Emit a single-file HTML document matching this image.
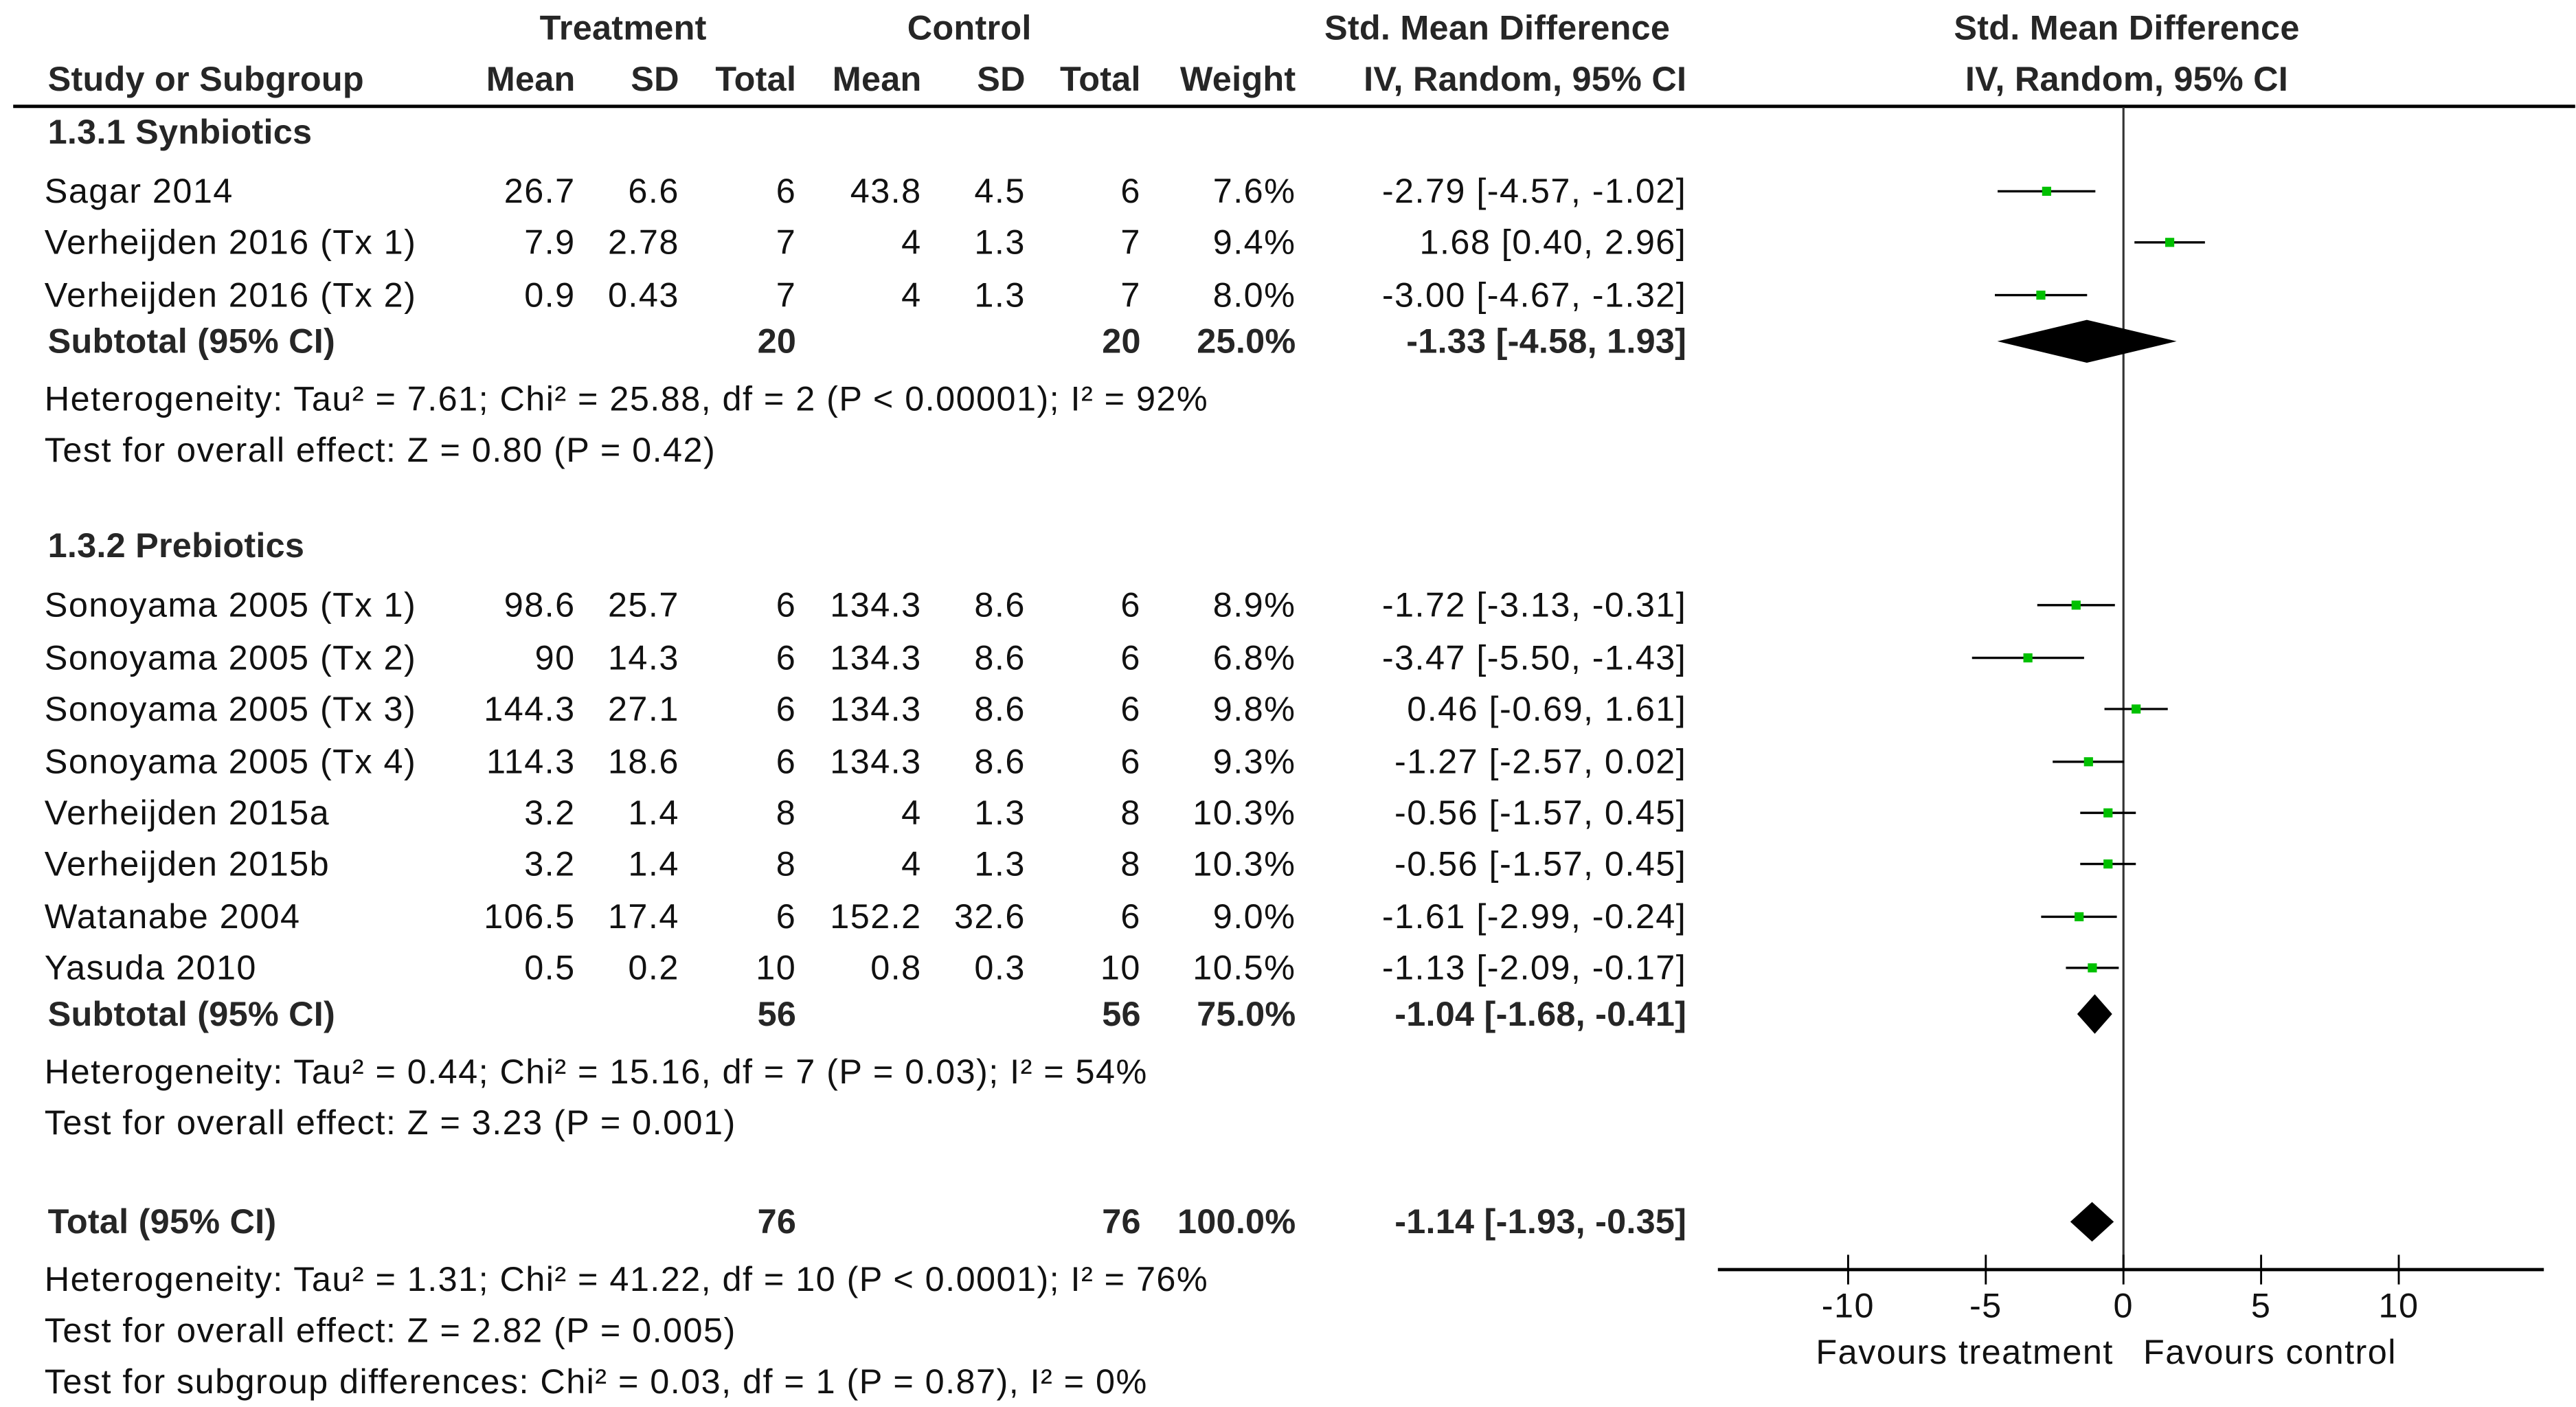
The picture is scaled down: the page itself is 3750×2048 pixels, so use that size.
<!DOCTYPE html>
<html><head><meta charset="utf-8"><style>
html,body{margin:0;padding:0;background:#fff;}
svg{display:block;}
text{font-family:"Liberation Sans",sans-serif;font-size:21px;fill:#111;letter-spacing:0.6px;}
.b{font-weight:bold;fill:#262626;letter-spacing:0.1px;}
</style></head><body>
<svg id="plot" width="3750" height="2048" viewBox="0 0 1562.5 853.33" preserveAspectRatio="none" xmlns="http://www.w3.org/2000/svg">
<g id="hdr">
<text class="b" x="378" y="24" text-anchor="middle">Treatment</text>
<text class="b" x="588" y="24" text-anchor="middle">Control</text>
<text class="b" x="1013" y="24" text-anchor="end">Std. Mean Difference</text>
<text class="b" x="1290" y="24" text-anchor="middle">Std. Mean Difference</text>
<text class="b" x="29" y="55">Study or Subgroup</text>
<text class="b" x="349" y="55" text-anchor="end">Mean</text>
<text class="b" x="412" y="55" text-anchor="end">SD</text>
<text class="b" x="483" y="55" text-anchor="end">Total</text>
<text class="b" x="559" y="55" text-anchor="end">Mean</text>
<text class="b" x="622" y="55" text-anchor="end">SD</text>
<text class="b" x="692" y="55" text-anchor="end">Total</text>
<text class="b" x="786" y="55" text-anchor="end">Weight</text>
<text class="b" x="1023" y="55" text-anchor="end">IV, Random, 95% CI</text>
<text class="b" x="1290" y="55" text-anchor="middle">IV, Random, 95% CI</text>
</g>
<line x1="8" y1="64.5" x2="1562" y2="64.5" stroke="#000" stroke-width="2"/>
<g id="body"></g>
</svg>
<script>
const studies=["Sagar 2014","Verheijden 2016 (Tx 1)","Verheijden 2016 (Tx 2)","Sonoyama 2005 (Tx 1)","Sonoyama 2005 (Tx 2)","Sonoyama 2005 (Tx 3)","Sonoyama 2005 (Tx 4)","Verheijden 2015a","Verheijden 2015b","Watanabe 2004","Yasuda 2010"];
const rowY=[116,147,179,367,399,430,462,493,524,556,587];
const tMean=["26.7","7.9","0.9","98.6","90","144.3","114.3","3.2","3.2","106.5","0.5"];
const tSD=["6.6","2.78","0.43","25.7","14.3","27.1","18.6","1.4","1.4","17.4","0.2"];
const tN=[6,7,7,6,6,6,6,8,8,6,10];
const cMean=["43.8","4","4","134.3","134.3","134.3","134.3","4","4","152.2","0.8"];
const cSD=["4.5","1.3","1.3","8.6","8.6","8.6","8.6","1.3","1.3","32.6","0.3"];
const cN=[6,7,7,6,6,6,6,8,8,6,10];
const weight=[7.6,9.4,8.0,8.9,6.8,9.8,9.3,10.3,10.3,9.0,10.5];
const smd=[-2.79,1.68,-3.00,-1.72,-3.47,0.46,-1.27,-0.56,-0.56,-1.61,-1.13];
const lo=[-4.57,0.40,-4.67,-3.13,-5.50,-0.69,-2.57,-1.57,-1.57,-2.99,-2.09];
const hi=[-1.02,2.96,-1.32,-0.31,-1.43,1.61,0.02,0.45,0.45,-0.24,-0.17];
const subNames=["Subtotal (95% CI)","Subtotal (95% CI)","Total (95% CI)"];
const subY=[207,615,741];
const subTN=[20,56,76];
const subCN=[20,56,76];
const subW=["25.0%","75.0%","100.0%"];
const subEst=[-1.33,-1.04,-1.14];
const subLo=[-4.58,-1.68,-1.93];
const subHi=[1.93,-0.41,-0.35];
const ticks=[-10,-5,0,5,10];
const notes=[["Heterogeneity: Tau² = 7.61; Chi² = 25.88, df = 2 (P < 0.00001); I² = 92%",249],["Test for overall effect: Z = 0.80 (P = 0.42)",280],["Heterogeneity: Tau² = 0.44; Chi² = 15.16, df = 7 (P = 0.03); I² = 54%",657],["Test for overall effect: Z = 3.23 (P = 0.001)",688],["Heterogeneity: Tau² = 1.31; Chi² = 41.22, df = 10 (P < 0.0001); I² = 76%",783],["Test for overall effect: Z = 2.82 (P = 0.005)",814],["Test for subgroup differences: Chi² = 0.03, df = 1 (P = 0.87), I² = 0%",845]];
const groups=[["1.3.1 Synbiotics",87],["1.3.2 Prebiotics",338]];

const NS="http://www.w3.org/2000/svg";
const g=document.getElementById('body');
const X0=1288, U=16.7;
function sx(v){return X0+v*U;}
function mk(tag,attrs){const e=document.createElementNS(NS,tag);for(const k in attrs)e.setAttribute(k,attrs[k]);g.appendChild(e);return e;}
function txt(s,x,y,anchor,cls){const e=mk('text',{x:x,y:y});if(anchor)e.setAttribute('text-anchor',anchor);if(cls)e.setAttribute('class',cls);e.textContent=s;return e;}
function f2(v){return v.toFixed(2);}

let zl=mk('line',{x1:sx(0),y1:65,x2:sx(0),y2:769,stroke:'#333','stroke-width':1.3});



groups.forEach(([s,y])=>{
  const t=txt(s,29,y,null,'b');
  
  
});

studies.forEach((s,i)=>{
  const y=rowY[i]+7;
  const cols=[[s,27,null],[tMean[i],349,'end'],[tSD[i],412,'end'],[String(tN[i]),483,'end'],[cMean[i],559,'end'],[cSD[i],622,'end'],[String(cN[i]),692,'end'],[weight[i].toFixed(1)+'%',786,'end'],[f2(smd[i])+' ['+f2(lo[i])+', '+f2(hi[i])+']',1023,'end']];
  cols.forEach(c=>{const t=txt(c[0],c[1],y,c[2]);
    
    });
  const ln=mk('line',{x1:sx(lo[i]),y1:rowY[i],x2:sx(hi[i]),y2:rowY[i],stroke:'#000','stroke-width':1.4});
  
  
  const sz=5.5;
  const r=mk('rect',{x:sx(smd[i])-sz/2,y:rowY[i]-sz/2,width:sz,height:sz,fill:'#00c000'});
  
  
});

subNames.forEach((s,i)=>{
  const y=subY[i]+7;
  const cols=[[s,29,null],[String(subTN[i]),483,'end'],[String(subCN[i]),692,'end'],[subW[i],786,'end'],[f2(subEst[i])+' ['+f2(subLo[i])+', '+f2(subHi[i])+']',1023,'end']];
  cols.forEach(c=>{const t=txt(c[0],c[1],y,c[2],'b');
    
    });
  const h=i===0?13:12;
  const d=mk('polygon',{points:`${sx(subLo[i])},${subY[i]} ${sx(subEst[i])},${subY[i]-h} ${sx(subHi[i])},${subY[i]} ${sx(subEst[i])},${subY[i]+h}`,fill:'#000'});
  
  
});

notes.forEach(([s,y])=>{const t=txt(s,27,y);
  
  });

const ax=mk('line',{x1:1042,y1:770,x2:1543,y2:770,stroke:'#000','stroke-width':2});


ticks.forEach(v=>{
  const tk=mk('line',{x1:sx(v),y1:761,x2:sx(v),y2:779,stroke:'#000','stroke-width':1.2});
  
  
  const t=txt(String(v),sx(v),799,'middle');
  
  
});
const fl=txt('Favours treatment',1282,827,'end');


const fr=txt('Favours control',1300,827,null);


</script>
</body></html>
